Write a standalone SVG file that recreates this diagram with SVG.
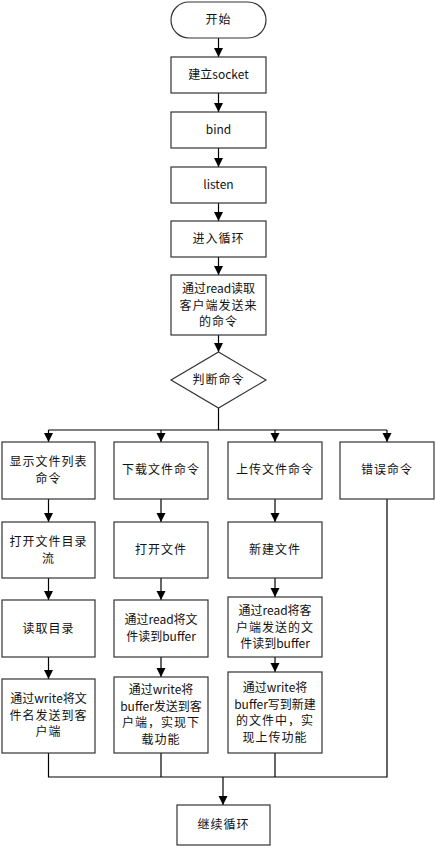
<svg xmlns="http://www.w3.org/2000/svg" width="436" height="848" viewBox="0 0 436 848">
<defs>
<marker id="ah" markerUnits="userSpaceOnUse" markerWidth="10" markerHeight="10" refX="9" refY="5" orient="auto">
<path d="M0,0.5 L9,5 L0,9.5 Z" fill="#000"/>
</marker>
<style>
.b{fill:#fff;stroke:#333;stroke-width:1.2}
.t{font-family:"Noto Sans CJK SC","Noto Sans",sans-serif;font-size:12px;fill:#111;text-anchor:middle}
.s{letter-spacing:1px}
.c{fill:none;stroke:#000;stroke-width:1.2}
</style>
</defs>
<rect width="436" height="848" fill="#fff"/>
<g id="connectors">
<line class="c" x1="218.5" y1="38" x2="218.5" y2="57" marker-end="url(#ah)"/>
<line class="c" x1="218.5" y1="93" x2="218.5" y2="112" marker-end="url(#ah)"/>
<line class="c" x1="218.5" y1="148" x2="218.5" y2="167" marker-end="url(#ah)"/>
<line class="c" x1="218.5" y1="203" x2="218.5" y2="221" marker-end="url(#ah)"/>
<line class="c" x1="218.5" y1="257" x2="218.5" y2="275" marker-end="url(#ah)"/>
<line class="c" x1="218.5" y1="335" x2="218.5" y2="352" marker-end="url(#ah)"/>
<polyline class="c" points="218.5,408 218.5,430"/>
<line class="c" x1="48.5" y1="430" x2="387" y2="430"/>
<line class="c" x1="48.5" y1="430" x2="48.5" y2="442" marker-end="url(#ah)"/>
<line class="c" x1="161" y1="430" x2="161" y2="442" marker-end="url(#ah)"/>
<line class="c" x1="275" y1="430" x2="275" y2="442" marker-end="url(#ah)"/>
<line class="c" x1="387" y1="430" x2="387" y2="442" marker-end="url(#ah)"/>
<line class="c" x1="48.5" y1="499" x2="48.5" y2="522" marker-end="url(#ah)"/>
<line class="c" x1="161" y1="499" x2="161" y2="522" marker-end="url(#ah)"/>
<line class="c" x1="275" y1="499" x2="275" y2="522" marker-end="url(#ah)"/>
<line class="c" x1="48.5" y1="578" x2="48.5" y2="600" marker-end="url(#ah)"/>
<line class="c" x1="161" y1="578" x2="161" y2="600" marker-end="url(#ah)"/>
<line class="c" x1="275" y1="578" x2="275" y2="597" marker-end="url(#ah)"/>
<line class="c" x1="48.5" y1="657" x2="48.5" y2="679" marker-end="url(#ah)"/>
<line class="c" x1="161" y1="657" x2="161" y2="677" marker-end="url(#ah)"/>
<line class="c" x1="275" y1="657" x2="275" y2="672" marker-end="url(#ah)"/>
<polyline class="c" points="48.5,753 48.5,777 387,777 387,499"/>
<line class="c" x1="161" y1="753" x2="161" y2="777"/>
<line class="c" x1="275" y1="753" x2="275" y2="777"/>
<line class="c" x1="223" y1="777" x2="223" y2="805" marker-end="url(#ah)"/>
</g>
<g id="start"><rect class="b" x="171" y="2" width="95" height="36" rx="18"/><text class="t s" x="218.5" y="24">开始</text></g>
<g id="socket"><rect class="b" x="171" y="57" width="95" height="36"/><text class="t" x="218.5" y="79">建立socket</text></g>
<g id="bind"><rect class="b" x="171" y="112" width="95" height="36"/><text class="t" x="218.5" y="134">bind</text></g>
<g id="listen"><rect class="b" x="171" y="167" width="95" height="36"/><text class="t" x="218.5" y="189">listen</text></g>
<g id="loop"><rect class="b" x="171" y="221" width="95" height="36"/><text class="t s" x="218.5" y="243">进入循环</text></g>
<g id="readcmd"><rect class="b" x="171" y="275" width="95" height="60"/>
<text class="t" x="218.5" y="293">通过read读取</text><text class="t s" x="218.5" y="310">客户端发送来</text><text class="t s" x="218.5" y="326">的命令</text></g>
<g id="judge"><polygon class="b" points="218.5,352 266,380 218.5,408 171,380"/><text class="t s" x="218.5" y="384">判断命令</text></g>
<g id="list"><rect class="b" x="2" y="442" width="93" height="57"/><text class="t s" x="48.5" y="466">显示文件列表</text><text class="t s" x="48.5" y="483">命令</text></g>
<g id="download"><rect class="b" x="114" y="442" width="94" height="57"/><text class="t s" x="161" y="474">下载文件命令</text></g>
<g id="upload"><rect class="b" x="228" y="442" width="94" height="57"/><text class="t s" x="275" y="474">上传文件命令</text></g>
<g id="error"><rect class="b" x="340" y="442" width="94" height="57"/><text class="t s" x="387" y="474">错误命令</text></g>
<g id="opendir"><rect class="b" x="2" y="522" width="93" height="56"/><text class="t s" x="48.5" y="546">打开文件目录</text><text class="t s" x="48.5" y="563">流</text></g>
<g id="openfile"><rect class="b" x="114" y="522" width="94" height="56"/><text class="t s" x="161" y="554">打开文件</text></g>
<g id="newfile"><rect class="b" x="228" y="522" width="94" height="56"/><text class="t s" x="275" y="554">新建文件</text></g>
<g id="readdir"><rect class="b" x="2" y="600" width="93" height="57"/><text class="t s" x="48.5" y="633">读取目录</text></g>
<g id="readfile"><rect class="b" x="114" y="600" width="94" height="57"/><text class="t" x="161" y="624">通过read将文</text><text class="t" x="161" y="641">件读到buffer</text></g>
<g id="readclient"><rect class="b" x="228" y="597" width="94" height="60"/><text class="t" x="275" y="615">通过read将客</text><text class="t s" x="275" y="632">户端发送的文</text><text class="t" x="275" y="648">件读到buffer</text></g>
<g id="sendnames"><rect class="b" x="2" y="679" width="93" height="74"/><text class="t" x="48.5" y="703">通过write将文</text><text class="t s" x="48.5" y="720">件名发送到客</text><text class="t s" x="48.5" y="736">户端</text></g>
<g id="sendbuf"><rect class="b" x="114" y="677" width="94" height="76"/><text class="t" x="161" y="694">通过write将</text><text class="t" x="161" y="711">buffer发送到客</text><text class="t s" x="161" y="727">户端，实现下</text><text class="t s" x="161" y="744">载功能</text></g>
<g id="writebuf"><rect class="b" x="228" y="672" width="94" height="81"/><text class="t" x="275" y="692">通过write将</text><text class="t" x="275" y="709">buffer写到新建</text><text class="t s" x="275" y="725">的文件中，实</text><text class="t s" x="275" y="742">现上传功能</text></g>
<g id="continue"><rect class="b" x="177" y="805" width="93" height="40"/><text class="t s" x="223.5" y="829">继续循环</text></g>
</svg>
